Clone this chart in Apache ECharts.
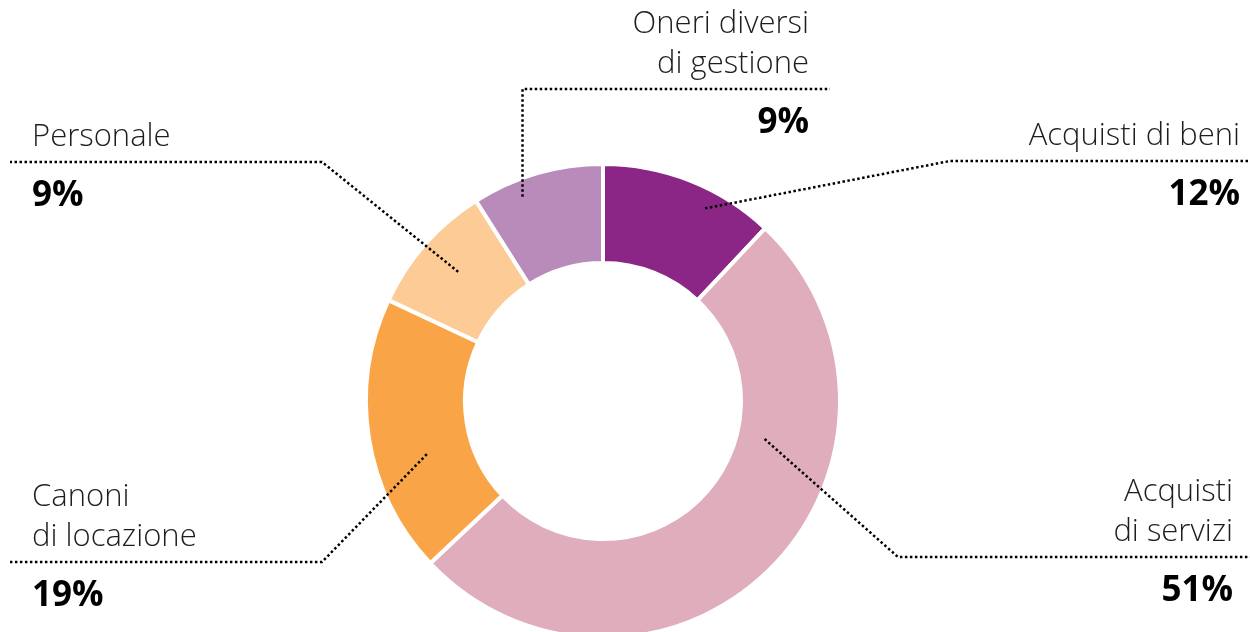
<!DOCTYPE html>
<html>
<head>
<meta charset="utf-8">
<script src="https://cdn.jsdelivr.net/npm/echarts@6/dist/echarts.min.js"></script>
<style>
  html, body { margin: 0; padding: 0; background: #fff; }
  #chart { width: 1250px; height: 632px; }
</style>
</head>
<body>
<div id="chart"></div>
<script>
// data, clockwise from the top
const categories = ['Acquisti di beni', 'Acquisti di servizi', 'Canoni di locazione', 'Personale', 'Oneri diversi di gestione'];
const nameLines = [['Acquisti di beni'], ['Acquisti', 'di servizi'], ['Canoni', 'di locazione'], ['Personale'], ['Oneri diversi', 'di gestione']];
const values = [12, 51, 19, 9, 9];
const colors = ['#8b2687', '#dfadbc', '#f9a547', '#fdcb96', '#b98bba'];

// where each label sits and where its leader starts inside the ring
const CX = 603, CY = 401;
const labelPos = [
  { side: 'right', x: 1240, lineY: 161, elbowX: 950, at: 0.646, r: 218 },
  { side: 'right', x: 1233, lineY: 557, elbowX: 898, at: 0.327, r: 166 },
  { side: 'left',  x: 32,   lineY: 562, elbowX: 322, at: 0.386, r: 184 },
  { side: 'left',  x: 32,   lineY: 162, elbowX: 322, at: 0.51,  r: 194 },
  { side: 'right', x: 809,  lineY: 89,  vertical: true, endX: 830, at: 0.336, r: 219.5 }
];

const total = values.reduce((a, b) => a + b, 0);
function anchor(i) {
  let start = 0;
  for (let k = 0; k < i; k++) start += values[k] / total * 360;
  const deg = start + labelPos[i].at * values[i] / total * 360;
  const rad = deg * Math.PI / 180;
  return [CX + labelPos[i].r * Math.sin(rad), CY - labelPos[i].r * Math.cos(rad)];
}

const chart = echarts.init(document.getElementById('chart'));
const W = chart.getWidth();

const ring = {
  type: 'pie',
  center: [CX, CY],
  radius: [138, 237],
  startAngle: 90,
  clockwise: true,
  avoidLabelOverlap: false,
  emphasis: { disabled: true },
  silent: true
};

chart.setOption({
  animation: false,
  backgroundColor: '#fff',
  series: [
    {
      ...ring,
      itemStyle: { borderColor: '#fff', borderWidth: 4 },
      label: { show: false },
      labelLine: { show: false },
      data: categories.map((c, i) => ({ name: c, value: values[i], itemStyle: { color: colors[i] } }))
    },
    {
      // same ring, invisible, carrying labels and leaders above the slices
      ...ring,
      z: 5,
      itemStyle: { color: 'transparent', borderWidth: 0 },
      label: {
        show: true,
        position: 'outside',
        overflow: 'none',
        textBorderWidth: 0,
        formatter: p => nameLines[p.dataIndex].map(s => `{n|${s}}`).join('\n') + `\n{p|${p.value}%}`,
        rich: {
          n: { fontFamily: 'Open Sans', fontWeight: 300, fontSize: 31, lineHeight: 40, color: '#1e1e1e' },
          p: { fontFamily: 'Open Sans', fontWeight: 'bold', fontSize: 35, lineHeight: 78, color: '#000' }
        }
      },
      labelLine: {
        show: true,
        showAbove: true,
        lineStyle: { color: '#000', width: 2.5, type: [2.5, 2.5] }
      },
      labelLayout: p => {
        const i = p.dataIndex, L = labelPos[i];
        const a = anchor(i);
        const elbow = [L.vertical ? a[0] : L.elbowX, L.lineY];
        const endX = L.endX != null ? L.endX : (L.side === 'right' ? W : 10);
        return {
          x: L.x,
          y: L.lineY - 5 - nameLines[i].length * 40,
          align: L.side,
          verticalAlign: 'top',
          labelLinePoints: [a, elbow, [endX, L.lineY]]
        };
      },
      data: categories.map((c, i) => ({ name: c, value: values[i] }))
    }
  ]
});
</script>
</body>
</html>
